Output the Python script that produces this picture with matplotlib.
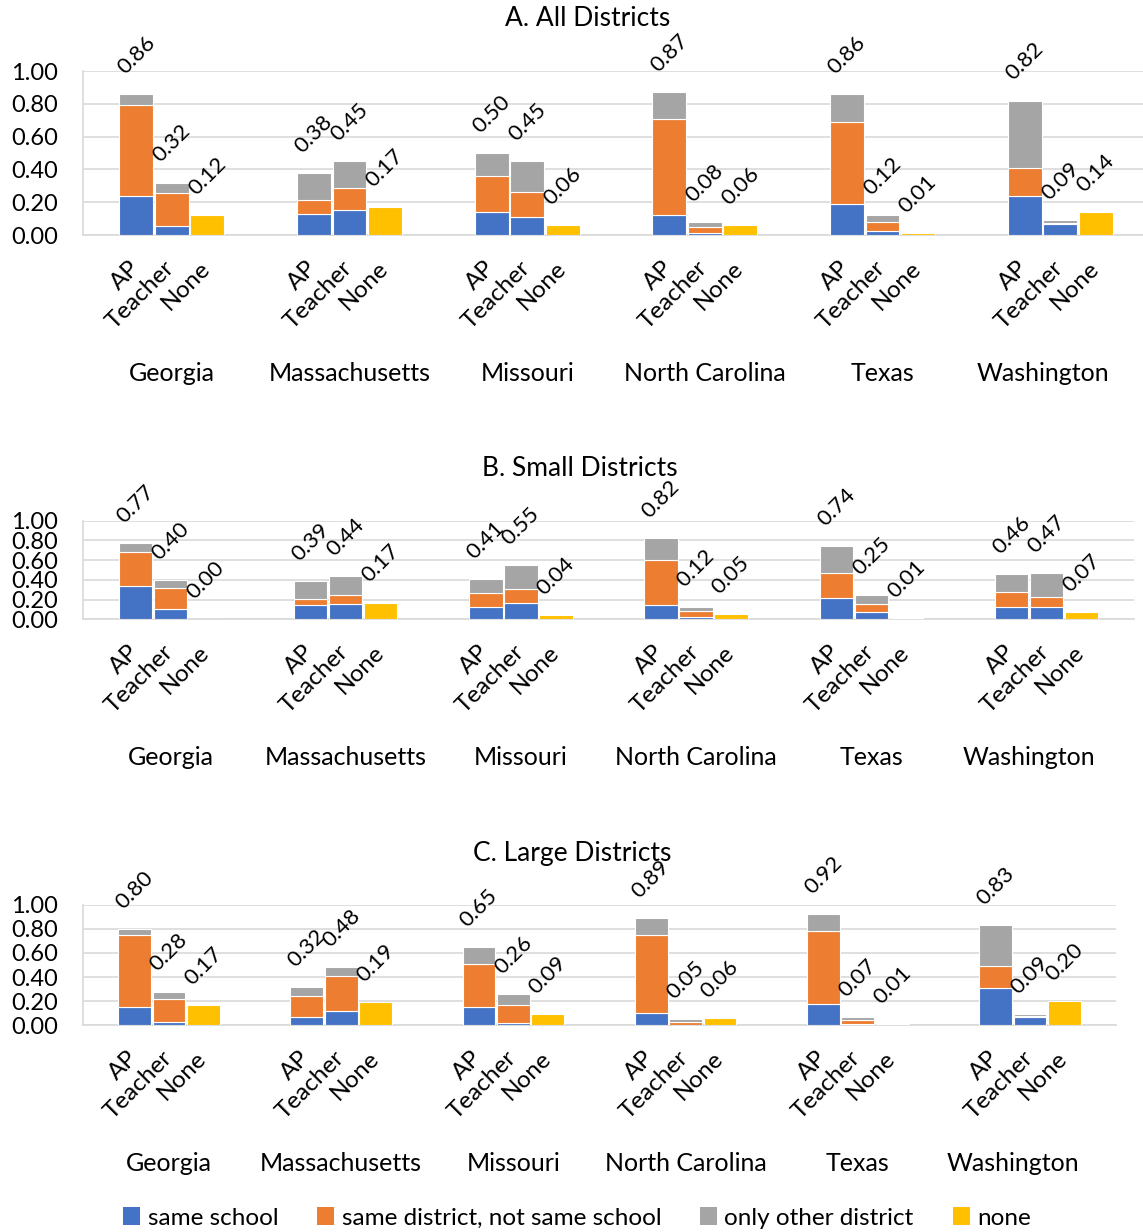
import numpy as np
import matplotlib
matplotlib.use("Agg")
import matplotlib.pyplot as plt
from matplotlib.patches import Patch
from matplotlib.transforms import ScaledTranslation

plt.rcParams['font.family'] = ['Lato', 'DejaVu Sans']

states = ["Georgia", "Massachusetts", "Missouri", "North Carolina", "Texas", "Washington"]
bar_types = ["AP", "Teacher", "None"]
series_names = ["same school", "same district, not same school", "only other district", "none"]
colors = ["#4472C4", "#ED7D31", "#A5A5A5", "#FFC000"]
titles = ["A. All Districts", "B. Small Districts", "C. Large Districts"]
y_ticks = [0.0, 0.2, 0.4, 0.6, 0.8, 1.0]

# Panel A: All districts
a_ap_same_school = [0.24, 0.13, 0.14, 0.12, 0.19, 0.24]
a_ap_same_district = [0.55, 0.085, 0.22, 0.585, 0.50, 0.17]
a_ap_other = [0.07, 0.165, 0.14, 0.165, 0.17, 0.41]
a_ap_total = [0.86, 0.38, 0.50, 0.87, 0.86, 0.82]
a_t_same_school = [0.055, 0.15, 0.11, 0.01, 0.025, 0.07]
a_t_same_district = [0.20, 0.135, 0.155, 0.04, 0.055, 0.003]
a_t_other = [0.065, 0.165, 0.185, 0.03, 0.04, 0.017]
a_t_total = [0.32, 0.45, 0.45, 0.08, 0.12, 0.09]
a_none = [0.12, 0.17, 0.06, 0.06, 0.01, 0.14]

# Panel B: Small districts
b_ap_same_school = [0.34, 0.14, 0.12, 0.14, 0.22, 0.12]
b_ap_same_district = [0.34, 0.065, 0.15, 0.46, 0.25, 0.16]
b_ap_other = [0.09, 0.185, 0.14, 0.22, 0.27, 0.18]
b_ap_total = [0.77, 0.39, 0.41, 0.82, 0.74, 0.46]
b_t_same_school = [0.10, 0.16, 0.165, 0.02, 0.075, 0.125]
b_t_same_district = [0.22, 0.09, 0.145, 0.06, 0.085, 0.105]
b_t_other = [0.08, 0.19, 0.24, 0.04, 0.09, 0.24]
b_t_total = [0.40, 0.44, 0.55, 0.12, 0.25, 0.47]
b_none = [0.00, 0.17, 0.04, 0.05, 0.01, 0.07]

# Panel C: Large districts
c_ap_same_school = [0.155, 0.065, 0.155, 0.10, 0.18, 0.31]
c_ap_same_district = [0.59, 0.18, 0.35, 0.645, 0.605, 0.185]
c_ap_other = [0.055, 0.075, 0.145, 0.145, 0.135, 0.335]
c_ap_total = [0.80, 0.32, 0.65, 0.89, 0.92, 0.83]
c_t_same_school = [0.025, 0.12, 0.015, 0.005, 0.01, 0.07]
c_t_same_district = [0.19, 0.29, 0.155, 0.025, 0.035, 0.003]
c_t_other = [0.065, 0.07, 0.09, 0.02, 0.025, 0.017]
c_t_total = [0.28, 0.48, 0.26, 0.05, 0.07, 0.09]
c_none = [0.17, 0.19, 0.09, 0.06, 0.01, 0.20]

panels = [
    (a_ap_same_school, a_ap_same_district, a_ap_other, a_ap_total,
     a_t_same_school, a_t_same_district, a_t_other, a_t_total, a_none),
    (b_ap_same_school, b_ap_same_district, b_ap_other, b_ap_total,
     b_t_same_school, b_t_same_district, b_t_other, b_t_total, b_none),
    (c_ap_same_school, c_ap_same_district, c_ap_other, c_ap_total,
     c_t_same_school, c_t_same_district, c_t_other, c_t_total, c_none),
]

W, H = 1143, 1232
fig = plt.figure(figsize=(W / 100, H / 100), dpi=100)

# (left px, right px, top px, bottom px)
boxes = [(83, 1149, 71, 235), (83, 1134, 520.7, 619.3), (83, 1116, 904.7, 1025.3)]
title_pos = [(588, 19), (580, 468), (572, 853)]
# horizontal nudge (points) of the state labels
state_nudge = [0, 0, 0, 0, 0, -12.5]

FS = 16
grid_c = "#D9D9D9"
off = 0.2
bw = 0.19

for p, (data, box, tpos, title) in enumerate(zip(panels, boxes, title_pos, titles)):
    l, r, t, b = box
    ax = fig.add_axes([l / W, 1 - b / H, (r - l) / W, (b - t) / H])
    (ap1, ap2, ap3, aptot, t1, t2, t3, ttot, nn) = [np.array(d) for d in data]
    x = np.arange(len(states))
    xa, xt, xn = x - off, x, x + off
    kw = dict(width=bw, edgecolor="white", linewidth=0.8, zorder=3)
    ax.bar(xa, ap1, color=colors[0], **kw)
    ax.bar(xa, ap2, bottom=ap1, color=colors[1], **kw)
    ax.bar(xa, ap3, bottom=ap1 + ap2, color=colors[2], **kw)
    ax.bar(xt, t1, color=colors[0], **kw)
    ax.bar(xt, t2, bottom=t1, color=colors[1], **kw)
    ax.bar(xt, t3, bottom=t1 + t2, color=colors[2], **kw)
    ax.bar(xn, nn, color=colors[3], **kw)

    for xs, tops, labs in ((xa, ap1 + ap2 + ap3, aptot), (xt, t1 + t2 + t3, ttot), (xn, nn, nn)):
        for xi, ti, li in zip(xs, tops, labs):
            ax.annotate(f"{li:.2f}", xy=(xi, ti), xytext=(0, 28), textcoords="offset points",
                        ha="center", va="center", rotation=45, fontsize=FS,
                        annotation_clip=False)

    ax.set_xlim(-0.5, len(states) - 0.5)
    ax.set_ylim(0, 1.0)
    ax.set_yticks(y_ticks)
    ax.set_yticklabels([f"{v:.2f}" for v in y_ticks], fontsize=FS + 1)
    ax.tick_params(axis="y", length=0, pad=18)
    ticks = np.concatenate([xa, xt, xn])
    labels = [bar_types[0]] * 6 + [bar_types[1]] * 6 + [bar_types[2]] * 6
    ax.set_xticks(ticks)
    ax.set_xticklabels(labels, rotation=45, ha="right", va="top", fontsize=FS + 1.5)
    ax.tick_params(axis="x", length=0, pad=16)
    shift = ScaledTranslation(7 / 100, 0, fig.dpi_scale_trans)
    for lab in ax.get_xticklabels():
        lab.set_transform(lab.get_transform() + shift)

    for i, s in enumerate(states):
        ax.annotate(s, xy=(i, 0), xycoords=("data", "axes fraction"),
                    xytext=(state_nudge[i], -99.4),
                    textcoords="offset points", ha="center", va="center", fontsize=FS + 2)

    ax.grid(axis="y", color=grid_c, linewidth=1.2, zorder=0)
    ax.set_axisbelow(True)
    for sp in ["top", "right"]:
        ax.spines[sp].set_visible(False)
    ax.spines["left"].set_color(grid_c)
    ax.spines["bottom"].set_color(grid_c)
    ax.spines["left"].set_linewidth(1.2)
    ax.spines["bottom"].set_linewidth(1.2)

    fig.text(tpos[0] / W, 1 - tpos[1] / H, title, ha="center", va="center", fontsize=FS + 3)

handles = [Patch(facecolor=c, edgecolor="none") for c in colors]
fig.legend(handles, series_names, loc="center", bbox_to_anchor=(577 / W, 1 - 1218 / H),
           ncol=4, frameon=False, fontsize=FS + 1.5, handlelength=0.7, handleheight=0.7,
           handletextpad=0.3, columnspacing=1.6)

fig.savefig("out.png", dpi=100)
